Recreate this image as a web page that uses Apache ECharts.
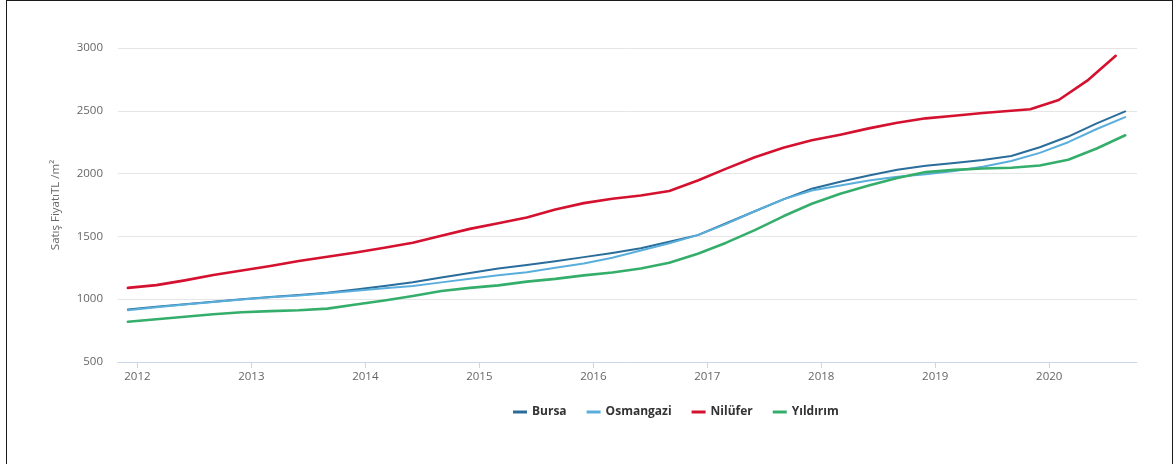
<!DOCTYPE html>
<html>
<head>
<meta charset="utf-8">
<script src="https://cdn.jsdelivr.net/npm/echarts@6/dist/echarts.min.js"></script>
<style>
  html, body { margin: 0; padding: 0; background: #fff; }
  #wrap { position: relative; width: 1175px; height: 464px; }
  #chart { position: absolute; left: 0; top: 0; width: 1175px; height: 464px; }
  #frame { position: absolute; left: 6px; top: 0; width: 1167px; height: 480px;
           border: 1px solid #1a1a1a; box-sizing: border-box; pointer-events: none; }
</style>
</head>
<body>
<div id="wrap">
  <div id="chart"></div>
  <div id="frame"></div>
</div>
<script>
// Quarterly sale price per m² (TL) by district, as [YYYY-MM, value]
const bursa = [
  ["2011-12", 919], ["2012-03", 940], ["2012-06", 960], ["2012-09", 980], ["2012-12", 1000],
  ["2013-03", 1017], ["2013-06", 1033], ["2013-09", 1052], ["2013-12", 1078],
  ["2014-03", 1105], ["2014-06", 1135], ["2014-09", 1172], ["2014-12", 1209],
  ["2015-03", 1245], ["2015-06", 1273], ["2015-09", 1302], ["2015-12", 1335],
  ["2016-03", 1368], ["2016-06", 1405], ["2016-09", 1457], ["2016-12", 1510],
  ["2017-03", 1605], ["2017-06", 1700], ["2017-09", 1795], ["2017-12", 1880],
  ["2018-03", 1935], ["2018-06", 1985], ["2018-09", 2030], ["2018-12", 2062],
  ["2019-03", 2085], ["2019-06", 2108], ["2019-09", 2140], ["2019-12", 2210],
  ["2020-03", 2295], ["2020-06", 2400], ["2020-09", 2495]
];
const osmangazi = [
  ["2011-12", 912], ["2012-03", 935], ["2012-06", 957], ["2012-09", 978], ["2012-12", 998],
  ["2013-03", 1015], ["2013-06", 1030], ["2013-09", 1047], ["2013-12", 1068],
  ["2014-03", 1088], ["2014-06", 1105], ["2014-09", 1134], ["2014-12", 1163],
  ["2015-03", 1190], ["2015-06", 1215], ["2015-09", 1250], ["2015-12", 1285],
  ["2016-03", 1330], ["2016-06", 1388], ["2016-09", 1446], ["2016-12", 1510],
  ["2017-03", 1600], ["2017-06", 1700], ["2017-09", 1795], ["2017-12", 1865],
  ["2018-03", 1905], ["2018-06", 1945], ["2018-09", 1975], ["2018-12", 1995],
  ["2019-03", 2020], ["2019-06", 2055], ["2019-09", 2100], ["2019-12", 2165],
  ["2020-03", 2250], ["2020-06", 2355], ["2020-09", 2450]
];
const nilufer = [
  ["2011-12", 1090], ["2012-03", 1112], ["2012-06", 1150], ["2012-09", 1193], ["2012-12", 1229],
  ["2013-03", 1265], ["2013-06", 1304], ["2013-09", 1338], ["2013-12", 1372],
  ["2014-03", 1410], ["2014-06", 1450], ["2014-09", 1505], ["2014-12", 1560],
  ["2015-03", 1605], ["2015-06", 1650], ["2015-09", 1715], ["2015-12", 1765],
  ["2016-03", 1800], ["2016-06", 1825], ["2016-09", 1862], ["2016-12", 1945],
  ["2017-03", 2040], ["2017-06", 2130], ["2017-09", 2205], ["2017-12", 2265],
  ["2018-03", 2310], ["2018-06", 2360], ["2018-09", 2405], ["2018-12", 2440],
  ["2019-03", 2460], ["2019-06", 2482], ["2019-09", 2500], ["2019-11", 2512],
  ["2020-02", 2586], ["2020-05", 2740], ["2020-08", 2938]
];
const yildirim = [
  ["2011-12", 821], ["2012-03", 840], ["2012-06", 860], ["2012-09", 880], ["2012-12", 896],
  ["2013-03", 905], ["2013-06", 912], ["2013-09", 925], ["2013-12", 958],
  ["2014-03", 990], ["2014-06", 1025], ["2014-09", 1065], ["2014-12", 1090],
  ["2015-03", 1110], ["2015-06", 1140], ["2015-09", 1162], ["2015-12", 1190],
  ["2016-03", 1212], ["2016-06", 1245], ["2016-09", 1290], ["2016-12", 1362],
  ["2017-03", 1450], ["2017-06", 1550], ["2017-09", 1660], ["2017-12", 1760],
  ["2018-03", 1840], ["2018-06", 1905], ["2018-09", 1965], ["2018-12", 2012],
  ["2019-03", 2030], ["2019-06", 2040], ["2019-09", 2046], ["2019-12", 2065],
  ["2020-03", 2110], ["2020-06", 2200], ["2020-09", 2305]
];
const yearTicks = [2012, 2013, 2014, 2015, 2016, 2017, 2018, 2019, 2020];
const yTickValues = [500, 1000, 1500, 2000, 2500, 3000];

// "YYYY-MM" -> fractional year on the value axis
function toYear(p) {
  const [y, m] = p.split("-").map(Number);
  return y + (m - 1) / 12;
}
function toPoints(rows) {
  return rows.map(([p, v]) => [toYear(p), v]);
}

const FONT = "'Open Sans', 'DejaVu Sans', sans-serif";

const chart = echarts.init(document.getElementById("chart"), null, { renderer: "canvas" });

function lineSeries(name, rows, color, width) {
  return {
    name: name,
    type: "line",
    data: toPoints(rows),
    showSymbol: false,
    symbol: "none",
    smooth: false,
    lineStyle: { color: color, width: width, cap: "round", join: "round" },
    itemStyle: { color: color },
    emphasis: { disabled: true },
    animation: false
  };
}

chart.setOption({
  animation: false,
  backgroundColor: "#ffffff",
  textStyle: { fontFamily: FONT },
  grid: { left: 118, right: 38, top: 48, bottom: 102, containLabel: false },
  legend: {
    left: 508,
    top: 401,
    icon: "rect",
    itemWidth: 14,
    itemHeight: 3,
    itemGap: 20,
    textStyle: { fontFamily: FONT, fontSize: 12, fontWeight: "bold", color: "#333333" },
    data: ["Bursa", "Osmangazi", "Nilüfer", "Yıldırım"]
  },
  xAxis: {
    type: "value",
    min: 2011.83,
    max: 2020.77,
    splitLine: { show: false },
    axisLine: { show: true, lineStyle: { color: "#ccd6eb", width: 1 } },
    axisTick: { show: true, length: 6, lineStyle: { color: "#ccd6eb" }, customValues: yearTicks },
    axisLabel: {
      color: "#666666", fontSize: 11.5, margin: 9, fontFamily: FONT,
      customValues: yearTicks,
      formatter: v => String(Math.round(v))
    }
  },
  yAxis: {
    type: "value",
    min: 500,
    max: 3000,
    interval: 500,
    name: "Satış FiyatıTL /m²",
    nameLocation: "middle",
    nameGap: 56,
    nameRotate: 90,
    nameTextStyle: { color: "#666666", fontSize: 11.5, fontFamily: FONT },
    axisLine: { show: false },
    axisTick: { show: false },
    splitLine: { lineStyle: { color: "#e6e6e6", width: 1 } },
    axisLabel: {
      color: "#666666", fontSize: 11.5, margin: 15, fontFamily: FONT,
      formatter: v => (yTickValues.includes(v) ? String(v) : "")
    }
  },
  series: [
    lineSeries("Bursa", bursa, "#2a6d9b", 2),
    lineSeries("Osmangazi", osmangazi, "#5aaedb", 2),
    lineSeries("Nilüfer", nilufer, "#d4112f", 2.6),
    lineSeries("Yıldırım", yildirim, "#35ae6c", 2.6)
  ]
});
</script>
</body>
</html>
